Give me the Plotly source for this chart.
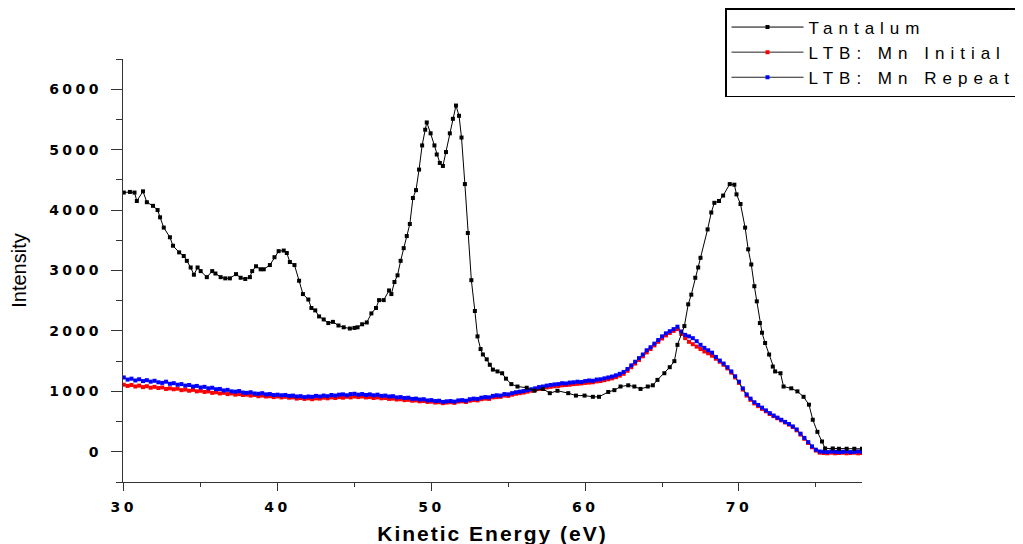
import plotly.graph_objects as go

# ---------------- data ----------------
tantalum_energy = [30.0, 30.4, 30.7, 30.85, 31.25, 31.5, 31.9, 32.2, 32.36, 32.6, 33.0, 33.2, 33.6, 33.9,
                   34.1, 34.35, 34.56, 34.8, 35.0, 35.4, 35.75, 35.96, 36.3, 36.6, 36.9, 37.3, 37.6, 37.9,
                   38.2, 38.35, 38.6, 38.9, 39.1, 39.5, 39.8, 40.07, 40.4, 40.6, 40.8, 41.1, 41.4, 41.65,
                   42.0, 42.2, 42.45, 42.7, 43.0, 43.3, 43.6, 43.96, 44.3, 44.7, 45.0, 45.2, 45.5, 45.8,
                   46.1, 46.4, 46.6, 46.9, 47.25, 47.4, 47.6, 47.8, 48.0, 48.2, 48.4, 48.6, 48.8, 49.0,
                   49.2, 49.4, 49.6, 49.7, 49.95, 50.2, 50.35, 50.55, 50.75, 50.95, 51.2, 51.4, 51.6, 51.8,
                   51.96, 52.18, 52.37, 52.6, 52.83, 53.0, 53.2, 53.35, 53.6, 53.8, 54.0, 54.3, 54.6, 54.85,
                   55.2, 55.6, 56.2, 56.7, 57.26, 57.7, 58.2, 58.9, 59.4, 59.96, 60.5, 60.9, 61.5, 61.9,
                   62.3, 62.8, 63.2, 63.6, 64.07, 64.4, 64.7, 65.15, 65.5, 65.8, 66.0, 66.45, 66.7, 66.9,
                   67.16, 67.35, 67.5, 67.96, 68.2, 68.4, 68.7, 68.97, 69.4, 69.7, 69.84, 70.1, 70.4, 70.6,
                   70.8, 71.0, 71.16, 71.36, 71.5, 71.7, 71.96, 72.2, 72.35, 72.7, 72.9, 73.4, 73.8, 74.2,
                   74.55, 74.8, 75.1, 75.4, 75.6, 76.1, 76.5, 77.0, 77.5, 78.0]
tantalum_intensity = [4290, 4300, 4290, 4150, 4310, 4130, 4070, 4000, 3880, 3710, 3550, 3410, 3300, 3240,
                      3160, 3050, 2930, 3050, 2990, 2890, 2990, 2950, 2890, 2870, 2870, 2940, 2880, 2860,
                      2890, 2990, 3070, 3020, 3020, 3090, 3220, 3320, 3330, 3290, 3140, 3090, 2830, 2610,
                      2520, 2380, 2340, 2240, 2190, 2130, 2150, 2090, 2060, 2040, 2050, 2060, 2110, 2140,
                      2290, 2380, 2510, 2510, 2670, 2610, 2810, 2920, 3160, 3370, 3570, 3770, 4200, 4330,
                      4670, 5070, 5330, 5450, 5270, 5070, 4920, 4780, 4730, 4960, 5270, 5510, 5730, 5560,
                      5200, 4430, 3620, 2840, 2330, 1910, 1700, 1610, 1530, 1440, 1360, 1330, 1300, 1210,
                      1120, 1080, 1060, 1010, 1040, 970, 1010, 970, 930, 930, 910, 910, 990, 1020,
                      1080, 1100, 1080, 1040, 1080, 1100, 1190, 1300, 1400, 1500, 1770, 2080, 2440, 2600,
                      2880, 3050, 3210, 3680, 3960, 4120, 4150, 4240, 4430, 4420, 4260, 4100, 3710, 3350,
                      3100, 2740, 2490, 2130, 1970, 1800, 1610, 1410, 1330, 1300, 1080, 1050, 1000, 910,
                      780, 530, 330, 170, 55, 55, 50, 50, 50, 50]

# LTB:Mn spectra, sampled every 0.25 eV starting at 30 eV
ltb_start = 30.0
ltb_step = 0.25
ltb_initial = [1110, 1090, 1105, 1080, 1095, 1070, 1085, 1060, 1075, 1055, 1065, 1040, 1050, 1035, 1045, 1020,
               1030, 1010, 1025, 1000, 1010, 990, 1000, 975, 985, 965, 975, 955, 965, 945, 955, 940,
               945, 930, 940, 920, 930, 915, 920, 905, 915, 900, 910, 895, 900, 880, 890, 875,
               885, 870, 885, 880, 895, 885, 900, 890, 905, 895, 910, 900, 915, 905, 915, 900,
               905, 890, 900, 885, 890, 875, 880, 865, 870, 855, 860, 845, 850, 835, 840, 825,
               830, 815, 820, 805, 815, 820, 810, 830, 835, 825, 845, 855, 850, 870, 880, 875,
               900, 905, 910, 930, 925, 945, 960, 970, 980, 995, 1010, 1025, 1040, 1050, 1065, 1075,
               1085, 1090, 1100, 1105, 1110, 1120, 1125, 1130, 1140, 1145, 1150, 1165, 1170, 1185, 1200, 1215,
               1235, 1260, 1290, 1340, 1400, 1460, 1520, 1580, 1645, 1700, 1760, 1820, 1875, 1925, 1965, 2000,
               2030, 1950, 1880, 1820, 1780, 1740, 1700, 1660, 1630, 1590, 1540, 1490, 1440, 1380, 1310, 1230,
               1140, 1030, 930, 860, 800, 755, 710, 670, 625, 590, 555, 520, 485, 450, 410, 355,
               285, 215, 145, 75, 20, -15, -20, -25, -15, -25, -20, -15, -25, -20, -15, -25,
               -20]
ltb_repeat = [1230, 1195, 1210, 1180, 1200, 1170, 1185, 1160, 1175, 1150, 1140, 1160, 1125, 1135, 1110, 1120,
              1095, 1105, 1080, 1090, 1065, 1075, 1050, 1060, 1035, 1040, 1015, 1025, 1000, 995, 1005, 980,
              975, 985, 965, 960, 970, 950, 955, 940, 945, 935, 940, 925, 930, 915, 920, 905,
              915, 910, 925, 915, 930, 920, 940, 930, 945, 950, 935, 955, 960, 945, 955, 940,
              950, 935, 945, 925, 930, 915, 920, 900, 905, 890, 895, 875, 880, 865, 870, 850,
              855, 840, 845, 825, 835, 840, 830, 850, 855, 845, 870, 880, 875, 895, 905, 900,
              925, 935, 930, 955, 950, 970, 985, 995, 1005, 1020, 1035, 1050, 1070, 1080, 1095, 1105,
              1115, 1120, 1135, 1130, 1145, 1150, 1160, 1155, 1170, 1180, 1175, 1195, 1200, 1215, 1230, 1245,
              1265, 1290, 1320, 1370, 1430, 1490, 1550, 1610, 1680, 1730, 1790, 1850, 1910, 1960, 1995, 2030,
              2070, 1990, 1935, 1910, 1880, 1830, 1770, 1720, 1680, 1640, 1570, 1510, 1460, 1400, 1330, 1250,
              1160, 1050, 950, 880, 820, 775, 730, 685, 640, 600, 565, 530, 495, 460, 420, 370,
              300, 230, 160, 90, 35, 5, 0, -5, 5, 0, -5, 0, 5, -5, 0, 5,
              0]
ltb_energy = [ltb_start + ltb_step * i for i in range(len(ltb_initial))]

series_names = ["Tantalum", "LTB: Mn Initial", "LTB: Mn Repeat"]
x_tick_values = [30, 40, 50, 60, 70]
y_tick_values = [0, 1000, 2000, 3000, 4000, 5000, 6000]
x_title = "Kinetic Energy (eV)"
y_title = "Intensity"


def spaced(text, px):
    return '<span style="letter-spacing:%spx">%s</span>' % (px, text)


fig = go.Figure()
fig.add_trace(go.Scatter(
    x=ltb_energy, y=ltb_initial, mode="lines+markers", name=spaced(series_names[1], 6),
    line=dict(color="#222222", width=1),
    marker=dict(symbol="square", size=4, color="#ff0000", line=dict(width=0)),
    legendrank=2,
))
fig.add_trace(go.Scatter(
    x=ltb_energy, y=ltb_repeat, mode="lines+markers", name=spaced(series_names[2], 6),
    line=dict(color="#222222", width=1),
    marker=dict(symbol="square", size=4, color="#0000ff", line=dict(width=0)),
    legendrank=3,
))
fig.add_trace(go.Scatter(
    x=tantalum_energy, y=tantalum_intensity, mode="lines+markers", name=spaced(series_names[0], 6),
    line=dict(color="#000000", width=1),
    marker=dict(symbol="square", size=4, color="#000000", line=dict(width=0)),
    legendrank=1,
))

tick_font = dict(family="DejaVu Sans", size=14, color="#000000", weight="bold")

fig.update_layout(
    width=1023, height=544,
    paper_bgcolor="white", plot_bgcolor="white",
    margin=dict(l=115, r=169, t=51, b=70, autoexpand=False),
    showlegend=True,
    legend=dict(
        xref="container", yref="container",
        x=717 / 1023, y=1 - 0 / 544, xanchor="left", yanchor="top",
        bordercolor="#000000", borderwidth=1.5, bgcolor="white",
        font=dict(family="Liberation Sans", size=17, color="#000000"),
        itemwidth=72, tracegroupgap=0,
    ),
    xaxis=dict(
        range=[29.95, 78.0], showgrid=False, zeroline=False,
        showline=True, linecolor="#333333", linewidth=1.2,
        ticks="outside", ticklen=8, tickwidth=1.2, tickcolor="#333333",
        tickvals=x_tick_values, ticktext=[spaced(str(v), 3.5) for v in x_tick_values],
        tickfont=tick_font, ticklabelstandoff=4,
        minor=dict(dtick=5, tick0=30, ticks="outside", ticklen=4, tickcolor="#333333", tickwidth=1.2),
        title=dict(text=spaced(x_title, 2), standoff=12,
                   font=dict(family="Liberation Sans", size=21, color="#000000", weight="bold")),
        automargin=False,
    ),
    yaxis=dict(
        range=[-500, 6500], showgrid=False, zeroline=False,
        showline=True, linecolor="#333333", linewidth=1.2,
        ticks="outside", ticklen=11, tickwidth=1.2, tickcolor="#333333",
        tickvals=y_tick_values, ticktext=[spaced(str(v), 3.5) for v in y_tick_values],
        tickfont=tick_font, ticklabelstandoff=6,
        minor=dict(dtick=500, tick0=0, ticks="outside", ticklen=6, tickcolor="#333333", tickwidth=1.2),
        title=dict(text=y_title, standoff=20,
                   font=dict(family="Liberation Sans", size=20, color="#000000")),
        automargin=False,
    ),
)

fig.write_html("out.html")
